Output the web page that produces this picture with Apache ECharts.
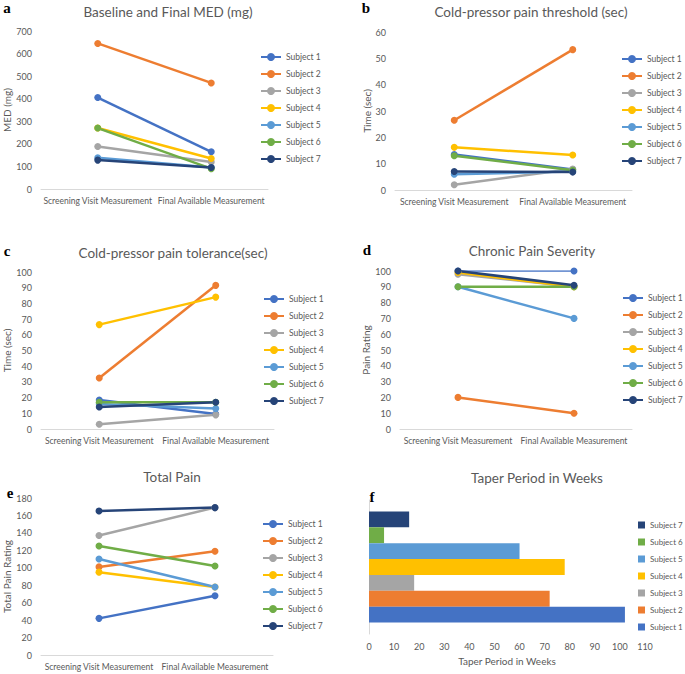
<!DOCTYPE html>
<html>
<head>
<meta charset="utf-8">
<title>Taper outcomes</title>
<script src="https://cdn.jsdelivr.net/npm/echarts@6/dist/echarts.min.js"></script>
<style>
  html, body { margin: 0; padding: 0; background: #fff; }
  #chart { width: 685px; height: 674px; }
</style>
</head>
<body>
<div id="chart"></div>
<script>
const categories = ["Screening Visit Measurement", "Final Available Measurement"];
const subjects = ["Subject 1", "Subject 2", "Subject 3", "Subject 4", "Subject 5", "Subject 6", "Subject 7"];

// values per subject (1..7), baseline and final
const medBaseline = [405, 645, 188, 270, 138, 270, 128];
const medFinal = [165, 470, 120, 135, 95, 90, 95];
const thresholdBaseline = [13.5, 26.5, 2, 16.2, 6, 13, 7];
const thresholdFinal = [7.8, 53.3, 8, 13.3, 7, 7.5, 6.8];
const toleranceBaseline = [18.5, 32.5, 3, 66.5, 16, 17, 14];
const toleranceFinal = [9.5, 91.5, 9, 84, 13, 17, 17];
const severityBaseline = [100, 20, 98, 99, 90, 90, 100];
const severityFinal = [100, 10, 90, 90, 70, 90, 91];
const totalPainBaseline = [42, 101, 137, 95, 110, 125, 165];
const totalPainFinal = [68, 119, 169, 78, 78, 102, 169];
const taperWeeks = [102, 72, 18, 78, 60, 6, 16];

const colors = ["#4472C4", "#ED7D31", "#A5A5A5", "#FFC000", "#5B9BD5", "#70AD47", "#264478"];
const textColor = "#595959";
const font = "Lato, 'Liberation Sans', sans-serif";
const letterFont = "'Liberation Serif', 'DejaVu Serif', serif";

const linePanels = [
  { letter: "a", title: "Baseline and Final MED (mg)", yName: "MED (mg)", base: medBaseline, fin: medFinal,
    max: 700, interval: 100, grid: { left: 41, top: 31, width: 227, height: 158 }, nameGap: 28,
    legend: { left: 260, top: 52 }, titlePos: [168, 12], letterPos: [7, 15] },
  { letter: "b", title: "Cold-pressor pain threshold (sec)", yName: "Time (sec)", base: thresholdBaseline, fin: thresholdFinal,
    max: 60, interval: 10, grid: { left: 395, top: 32, width: 237, height: 158 }, nameGap: 21,
    legend: { left: 621, top: 54 }, titlePos: [531, 12], letterPos: [366, 15] },
  { letter: "c", title: "Cold-pressor pain tolerance(sec)", yName: "Time (sec)", base: toleranceBaseline, fin: toleranceFinal,
    max: 100, interval: 10, grid: { left: 41, top: 272, width: 233, height: 157 }, nameGap: 25,
    legend: { left: 263, top: 294 }, titlePos: [173, 253], letterPos: [7, 258] },
  { letter: "d", title: "Chronic Pain Severity", yName: "Pain Rating", base: severityBaseline, fin: severityFinal,
    max: 100, interval: 10, grid: { left: 400, top: 271, width: 232, height: 158 }, nameGap: 26,
    legend: { left: 622, top: 293 }, titlePos: [532, 251], letterPos: [367, 257] },
  { letter: "e", title: "Total Pain", yName: "Total Pain Rating", base: totalPainBaseline, fin: totalPainFinal,
    max: 180, interval: 20, grid: { left: 41, top: 498, width: 232, height: 157 }, nameGap: 25,
    legend: { left: 262, top: 519 }, titlePos: [172, 477], letterPos: [10, 500] },
];

const grids = [];
const xAxes = [];
const yAxes = [];
const legends = [];
const series = [];
const graphics = [];

linePanels.forEach((p, idx) => {
  grids.push(p.grid);
  xAxes.push({
    type: "category",
    gridIndex: idx,
    data: categories,
    axisLine: { lineStyle: { color: "#d9d9d9" } },
    axisTick: { show: false },
    axisLabel: { interval: 0, color: textColor, fontSize: 8.5, fontFamily: font, margin: 7 },
  });
  yAxes.push({
    type: "value",
    gridIndex: idx,
    min: 0,
    max: p.max,
    interval: p.interval,
    axisLine: { show: false },
    axisTick: { show: false },
    splitLine: { show: false },
    axisLabel: { color: textColor, fontSize: 9, fontFamily: font, margin: 9 },
    name: p.yName,
    nameLocation: "middle",
    nameGap: p.nameGap,
    nameTextStyle: { color: textColor, fontSize: 10, fontFamily: font },
  });
  legends.push({
    orient: "vertical",
    left: p.legend.left,
    top: p.legend.top,
    padding: 0,
    data: subjects,
    itemWidth: 20,
    itemHeight: 10,
    itemGap: 7,
    selectedMode: false,
    textStyle: { color: textColor, fontSize: 8.5, lineHeight: 10, fontFamily: font },
  });
  subjects.forEach((name, i) => {
    series.push({
      type: "line",
      name: name,
      xAxisIndex: idx,
      yAxisIndex: idx,
      data: [p.base[i], p.fin[i]],
      symbol: "circle",
      symbolSize: 7,
      color: colors[i],
      lineStyle: { width: p.letter === "d" && i === 0 ? 1.3 : 2.5 },
      animation: false,
    });
  });
  graphics.push({
    type: "text", x: p.titlePos[0], y: p.titlePos[1],
    style: { text: p.title, fill: textColor, fontSize: 13.5, fontFamily: font, align: "center", verticalAlign: "middle" },
  });
  graphics.push({
    type: "text", x: p.letterPos[0], y: p.letterPos[1],
    style: { text: p.letter, fill: "#000", fontSize: 15, fontWeight: "bold", fontFamily: letterFont, align: "center", verticalAlign: "bottom" },
  });
});

// panel f: taper period bars
grids.push({ left: 369, top: 500, width: 276, height: 134 });
xAxes.push({
  type: "value",
  gridIndex: 5,
  min: 0,
  max: 110,
  interval: 10,
  axisLine: { show: false },
  axisTick: { show: false },
  splitLine: { show: false },
  axisLabel: { color: textColor, fontSize: 9, fontFamily: font, margin: 8 },
  name: "Taper Period in Weeks",
  nameLocation: "middle",
  nameGap: 22,
  nameTextStyle: { color: textColor, fontSize: 10, fontFamily: font },
});
yAxes.push({
  type: "category",
  gridIndex: 5,
  data: ["Taper"],
  axisLine: { lineStyle: { color: "#d9d9d9" } },
  axisTick: { show: false },
  axisLabel: { show: false },
});
legends.push({
  orient: "vertical",
  left: 638,
  top: 521,
  padding: 0,
  data: subjects.slice().reverse(),
  icon: "rect",
  itemWidth: 7,
  itemHeight: 7,
  itemGap: 9,
  selectedMode: false,
  textStyle: { color: textColor, fontSize: 8, lineHeight: 7, fontFamily: font },
});
for (let i = subjects.length - 1; i >= 0; i--) {
  series.push({
    type: "bar",
    name: subjects[i],
    xAxisIndex: 5,
    yAxisIndex: 5,
    data: [taperWeeks[i]],
    color: colors[i],
    barGap: "0%",
    barCategoryGap: "17%",
    animation: false,
  });
}
graphics.push({
  type: "text", x: 537, y: 478,
  style: { text: "Taper Period in Weeks", fill: textColor, fontSize: 13.5, fontFamily: font, align: "center", verticalAlign: "middle" },
});
graphics.push({
  type: "text", x: 372, y: 504,
  style: { text: "f", fill: "#000", fontSize: 15, fontWeight: "bold", fontFamily: letterFont, align: "center", verticalAlign: "bottom" },
});

const chart = echarts.init(document.getElementById("chart"), null, { renderer: "svg" });
chart.setOption({
  backgroundColor: "#fff",
  animation: false,
  grid: grids,
  xAxis: xAxes,
  yAxis: yAxes,
  legend: legends,
  series: series,
  graphic: graphics,
});
</script>
</body>
</html>
